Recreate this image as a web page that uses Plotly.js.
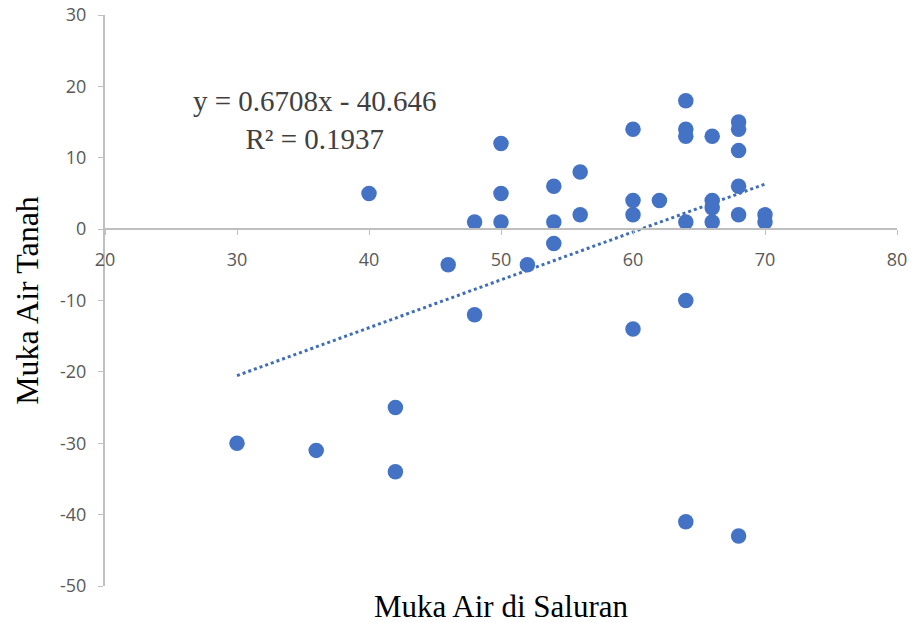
<!DOCTYPE html>
<html>
<head>
<meta charset="utf-8">
<script src="https://cdn.plot.ly/plotly-3.0.1.min.js"></script>
<style>html,body{margin:0;padding:0;background:#fff;}#chart{width:915px;height:623px;}</style>
</head>
<body>
<div id="chart"></div>
<script>
// Muka Air di Saluran (x) vs Muka Air Tanah (y)
const saluran = [30, 36, 40, 42, 42, 46, 48, 48, 50, 50, 50, 52, 54, 54, 54, 56, 56,
                 60, 60, 60, 60, 62, 64, 64, 64, 64, 64, 64, 66, 66, 66, 66,
                 68, 68, 68, 68, 68, 68, 70, 70];
const tanah   = [-30, -31, 5, -25, -34, -5, 1, -12, 12, 5, 1, -5, 6, 1, -2, 8, 2,
                 14, 4, 2, -14, 4, 18, 14, 13, 1, -10, -41, 13, 4, 3, 1,
                 15, 14, 11, 6, 2, -43, 2, 1];
// Linear trendline endpoints as drawn
const trendX = [30, 70];
const trendY = [-20.52, 6.31];
const xTicks = [20, 30, 40, 50, 60, 70, 80];
const yTicks = [-50, -40, -30, -20, -10, 0, 10, 20, 30];
const eqText = "y = 0.6708x - 40.646<br>R² = 0.1937";

const data = [
  {x: trendX, y: trendY, mode: 'lines', type: 'scatter',
   line: {color: '#3f6db8', width: 3, dash: 'dot'}, hoverinfo: 'skip'},
  {x: saluran, y: tanah, mode: 'markers', type: 'scatter',
   marker: {color: '#4472C4', size: 15.5}}
];

const axisGrey = '#bfbfbf';
const serif = '"Liberation Serif", "Times New Roman", serif';
const sans = '"Open Sans", sans-serif';
const layout = {
  width: 915, height: 623,
  margin: {l: 105, r: 18, t: 15, b: 37},
  paper_bgcolor: '#fff', plot_bgcolor: '#fff',
  showlegend: false,
  font: {family: sans, color: '#595959', size: 18},
  xaxis: {
    range: [20, 80], tickvals: xTicks, ticktext: xTicks.map(String),
    anchor: 'free', position: 50/80,
    showgrid: false, zeroline: false,
    showline: true, linecolor: axisGrey, linewidth: 2,
    ticks: 'outside', ticklen: 5, tickcolor: axisGrey, tickwidth: 1,
    ticklabelstandoff: 9,
    tickfont: {family: sans, size: 18, color: '#595959'}
  },
  yaxis: {
    range: [-50, 30], tickvals: yTicks, ticktext: yTicks.map(String),
    showgrid: false, zeroline: false,
    showline: true, linecolor: axisGrey, linewidth: 2,
    ticks: 'outside', ticklen: 5, tickcolor: axisGrey, tickwidth: 1,
    ticklabelstandoff: 8,
    tickfont: {family: sans, size: 18, color: '#595959'},
    title: {text: 'Muka Air Tanah', font: {family: serif, size: 32, color: '#000'}, standoff: 12}
  },
  annotations: [
    {xref: 'paper', yref: 'paper', x: 0.5, y: 0, yshift: -1, yanchor: 'top',
     text: 'Muka Air di Saluran', showarrow: false,
     font: {family: serif, size: 31, color: '#000'}},
    {xref: 'x', yref: 'y', x: 35.9, y: 15.3, text: eqText, showarrow: false,
     align: 'center',
     font: {family: serif, size: 29, color: '#404040'}}
  ]
};

Plotly.newPlot('chart', data, layout, {displayModeBar: false, staticPlot: true});
</script>
</body>
</html>
